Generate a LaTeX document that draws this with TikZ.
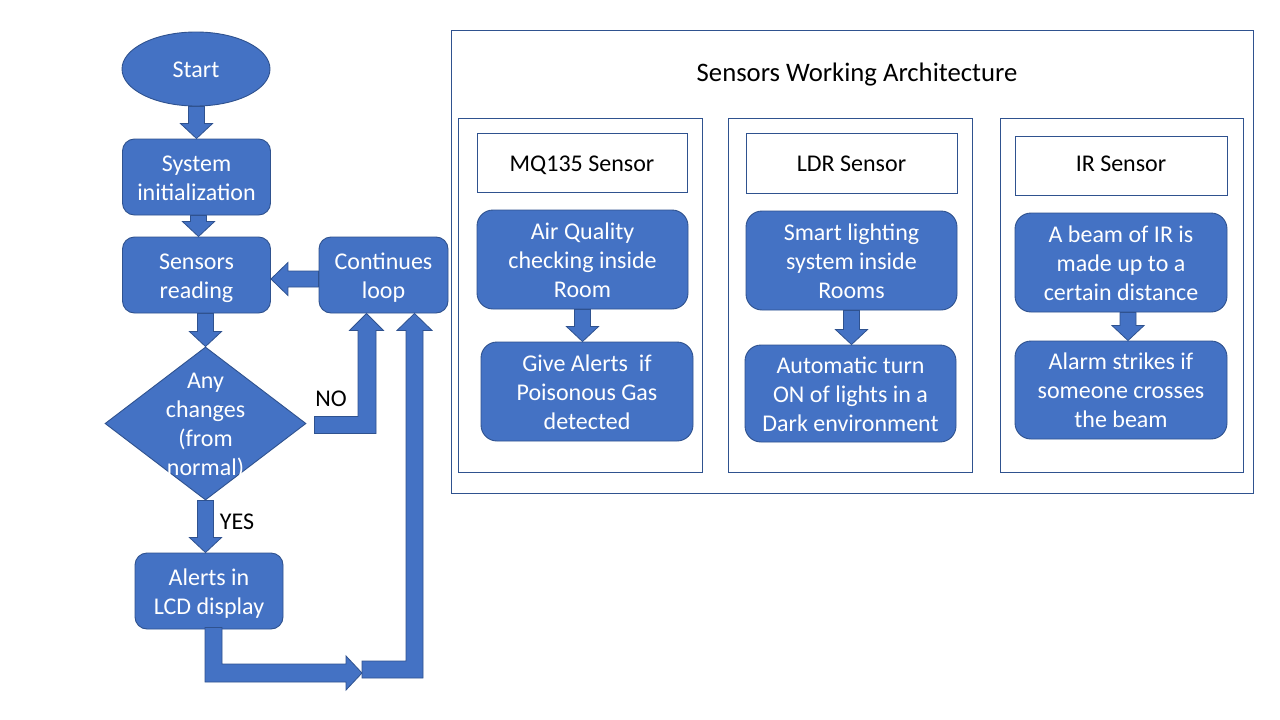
\documentclass[tikz,border=0pt]{standalone}
\usepackage{fontspec}
\setmainfont{Carlito}
\usetikzlibrary{shapes.geometric,calc}
\definecolor{boxblue}{HTML}{4472C4}
\definecolor{boxedge}{HTML}{2F528F}
% text block of #1 lines, centred like PowerPoint (line pitch 29pt)
\newcommand{\ptxt}[2]{\raisebox{\dimexpr 14.5pt*#1 - 23.3pt\relax}[0pt][0pt]{\begin{tabular}[t]{@{}c@{}}#2\end{tabular}}}
\tikzset{
  pptxt/.style={font=\fontsize{24}{29}\selectfont, inner sep=0pt},
  bluebox/.style={pptxt, rounded corners=12pt, fill=boxblue, draw=boxedge, line width=0.9pt, text=white},
  bluebig/.style={bluebox, rounded corners=16pt},
  panel/.style={draw=boxedge, line width=0.8pt, inner sep=0pt},
  hdrbox/.style={panel, pptxt, text=black},
  lbl/.style={pptxt, text=black},
  blk/.style={fill=boxblue, draw=boxedge, line width=0.8pt, line join=miter},
}
\newcommand{\blkdown}[2]{\filldraw[blk] let \p1=(#1), \p2=(#2) in
  (\x2-8pt,\y1) -- (\x2+8pt,\y1) -- (\x2+8pt,\y2+15pt) -- (\x2+16pt,\y2+15pt) --
  (\x2,\y2) -- (\x2-16pt,\y2+15pt) -- (\x2-8pt,\y2+15pt) -- cycle;}
\begin{document}
\begin{tikzpicture}[x=1pt,y=-1pt]
\useasboundingbox[fill=white] (0,0) rectangle (1280,720);

% ---------- left flowchart ----------
\node[bluebox, ellipse, minimum width=148pt, minimum height=74pt] (start) at (196,69) {\ptxt{1}{Start}};
\node[bluebox, minimum width=148pt, minimum height=76pt] (sys) at (196.5,177) {\ptxt{2}{System\\initialization}};
\node[bluebox, minimum width=148pt, minimum height=76pt] (sens) at (196.5,275) {\ptxt{2}{Sensors\\reading}};
\node[bluebox, minimum width=129pt, minimum height=76pt] (loop) at (383.5,275) {\ptxt{2}{Continues\\loop}};
\node[bluebox, sharp corners, diamond, minimum width=201pt, minimum height=153pt] (dia) at (205.5,423.5) {\ptxt{4}{Any\\changes\\(from\\normal)}};
\node[bluebox, minimum width=148pt, minimum height=76pt] (alerts) at (209,591) {\ptxt{2}{Alerts in\\LCD display}};
\coordinate (join) at (362,673);

\node[lbl] (nolbl) at (331,398) {\ptxt{1}{NO}};
\node[lbl] (yeslbl) at (237,521) {\ptxt{1}{YES}};

% straight block arrows
\blkdown{start.south}{sys.north}
\blkdown{sys.south}{$(sens.north)+(2,0)$}
\blkdown{sens.south}{dia.north}
\blkdown{dia.south}{dia.south |- alerts.north}

% loop -> sensors (left)
\filldraw[blk] let \p1=(loop.west), \p2=(sens.east) in
  (\x1,\y1+4pt) -- (\x2+17pt,\y1+4pt) -- (\x2+17pt,\y1+12.5pt) -- (\x2,\y1-4pt) --
  (\x2+17pt,\y1-20.5pt) -- (\x2+17pt,\y1-12pt) -- (\x1,\y1-12pt) -- cycle;

% NO : diamond -> loop
\filldraw[blk] let \p1=(dia.east), \p2=($(loop.south)+(-17,0)$) in
  (\x1+8pt,\y1+7pt) -- (\x2-8.5pt,\y1+7pt) -- (\x2-8.5pt,\y2-17pt) -- (\x2-17pt,\y2-17pt) --
  (\x2,\y2) -- (\x2+17pt,\y2-17pt) -- (\x2+9.5pt,\y2-17pt) -- (\x2+9.5pt,\y1-10pt) --
  (\x1+8pt,\y1-10pt) -- cycle;

% alerts -> join
\filldraw[blk] let \p1=(alerts.south), \p2=(join) in
  (\x1-4pt,\y1+2pt) -- (\x1+13pt,\y1+2pt) -- (\x1+13pt,\y2+9pt) -- (\x2-16pt,\y2+9pt) --
  (\x2-16pt,\y2+17pt) -- (\x2,\y2) -- (\x2-16pt,\y2-17pt) -- (\x2-16pt,\y2-9pt) --
  (\x1-4pt,\y2-9pt) -- cycle;

% join -> loop
\filldraw[blk] let \p1=(join), \p2=($(loop.south)+(31,0)$) in
  (\x1,\y1+12pt) -- (\x2-8.5pt,\y1+12pt) -- (\x2-8.5pt,\y2-17pt) -- (\x2-17.5pt,\y2-17pt) --
  (\x2,\y2) -- (\x2+17.5pt,\y2-17pt) -- (\x2+8.5pt,\y2-17pt) -- (\x2+8.5pt,\y1-5pt) --
  (\x1,\y1-5pt) -- cycle;

% ---------- right architecture ----------
\node[panel, minimum width=802pt, minimum height=463pt] (outer) at (852,261.5) {};
\node[text=black, inner sep=0pt, anchor=base, font=\fontsize{26.7}{32}\selectfont] (title) at (857,81) {Sensors Working Architecture};

\node[panel, minimum width=244pt, minimum height=354pt] (p1) at (580,295) {};
\node[panel, minimum width=244pt, minimum height=354pt] (p2) at (850,295) {};
\node[panel, minimum width=243pt, minimum height=354pt] (p3) at (1121.5,295) {};

\node[hdrbox, minimum width=210pt, minimum height=59pt] (h1) at (582,162.5) {\ptxt{1}{MQ135 Sensor}};
\node[hdrbox, minimum width=211pt, minimum height=60pt] (h2) at (851.5,163) {\ptxt{1}{LDR Sensor}};
\node[hdrbox, minimum width=212pt, minimum height=59pt] (h3) at (1121,165.5) {\ptxt{1}{\raisebox{3pt}{IR Sensor}}};

\node[bluebig, minimum width=211pt, minimum height=99pt] (b1a) at (582.5,259.5) {\ptxt{3}{Air Quality\\checking inside\\Room}};
\node[bluebig, minimum width=212pt, minimum height=99pt] (b1b) at (587,391.5) {\ptxt{3}{Give Alerts\ \ if\\Poisonous Gas\\detected}};
\node[bluebig, minimum width=211pt, minimum height=99pt] (b2a) at (851.5,260.5) {\ptxt{3}{Smart lighting\\system inside\\Rooms}};
\node[bluebig, minimum width=211pt, minimum height=97pt] (b2b) at (850.5,393.5) {\ptxt{3}{Automatic turn\\ON of lights in a\\Dark environment}};
\node[bluebig, minimum width=212pt, minimum height=99pt] (b3a) at (1121,262.5) {\ptxt{3}{A beam of IR is\\made up to a\\certain distance}};
\node[bluebig, minimum width=212pt, minimum height=98pt] (b3b) at (1121,390) {\ptxt{3}{Alarm strikes if\\someone crosses\\the beam}};

\blkdown{b1a.south}{b1a.south |- b1b.north}
\blkdown{b2a.south}{b2a.south |- b2b.north}
\blkdown{b3a.south}{$(b3a.south |- b3b.north)+(7,0)$}
\end{tikzpicture}
\end{document}
